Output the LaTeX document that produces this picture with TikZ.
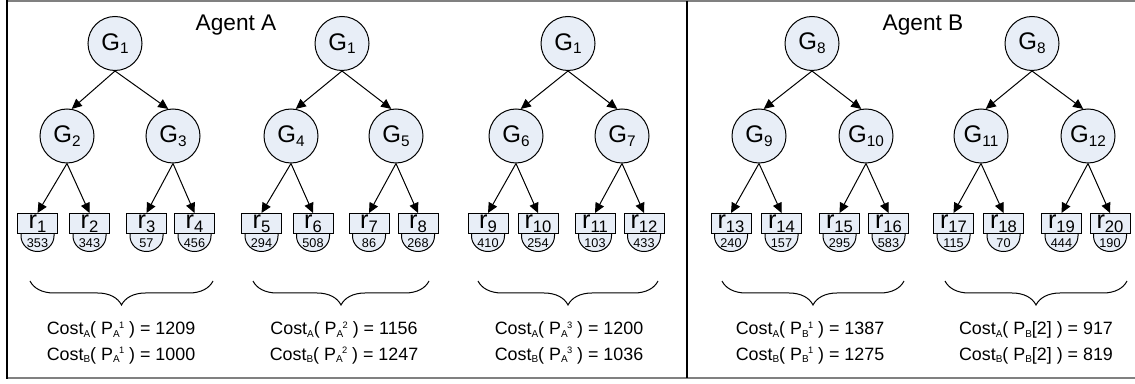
\documentclass[tikz,border=0pt]{standalone}
\usepackage{fontspec}
\setmainfont{Liberation Sans}
\usetikzlibrary{arrows.meta,decorations.pathreplacing}
\definecolor{nodefill}{RGB}{232,238,247}
\definecolor{framegray}{RGB}{128,128,128}
\newcommand{\Gn}[1]{G\raisebox{-2.8pt}{\fontsize{11.5}{12}\selectfont #1}}
\newcommand{\Rn}[1]{r\raisebox{-3pt}{\fontsize{12.5}{13}\selectfont #1}}
\newcommand{\sbA}[1]{\raisebox{-2pt}{\fontsize{7.5}{8}\selectfont #1}}
\newcommand{\spA}[1]{\raisebox{5pt}{\fontsize{7}{8}\selectfont #1}}
\newcommand{\PP}[2]{P\sbA{#1}\kern-0.5pt\spA{#2}}
\newcommand{\leafnode}[4]{%
  \draw[leafline] (#2-16.5,233) -- (#2-16.5,236) arc[start angle=180,end angle=0,x radius=16.5,y radius=15.5] -- (#2+16.5,233);
  \node[leafbox] (#1) at (#2,223.5) {\Rn{#3}};
  \node[numlab] (#1n) at (#2,243.5) {#4};
}
\tikzset{
  gnode/.style={circle, draw, fill=nodefill, minimum size=40.5pt, inner sep=0pt, line width=0.75pt, font=\fontsize{18}{19}\selectfont},
  leafbox/.style={rectangle, draw, fill=nodefill, minimum width=30pt, minimum height=15pt, inner sep=0pt, line width=0.75pt, font=\fontsize{19}{20}\selectfont},
  leafline/.style={draw, fill=nodefill, line width=0.75pt},
  numlab/.style={inner sep=0pt, font=\fontsize{9.5}{10}\selectfont},
  arr/.style={-{Triangle[length=7.5pt,width=7pt]}, line width=0.75pt},
  costlab/.style={inner sep=0pt, font=\fontsize{13.4}{15}\selectfont},
  agentlab/.style={inner sep=0pt, font=\fontsize{17}{18}\selectfont},
  brc/.style={decorate, decoration={brace, mirror, amplitude=18pt}, line width=0.75pt},
}
\begin{document}
\begin{tikzpicture}[x=0.75pt,y=-0.75pt]
\useasboundingbox (0,0) rectangle (1135,384);
% frame
\draw[framegray, line width=1.5pt] (7,1) -- (1135,1);
\draw[framegray, line width=1.5pt] (7,378.5) -- (1135,378.5);
\draw[black, line width=1.2pt] (7,0.5) -- (7,379);
\draw[black, line width=1pt] (687,1) -- (687,378);
% agent labels
\node[agentlab] (agA) at (236,25) {Agent A};
\node[agentlab] (agB) at (923,25) {Agent B};
% ---------- tree 1
\node[gnode] (t1) at (115,43.5) {\Gn{1}};
\node[gnode] (g2) at (67,136) {\Gn{2}};
\node[gnode] (g3) at (173,136) {\Gn{3}};
\leafnode{r1}{37.5}{1}{353}
\leafnode{r2}{89.5}{2}{343}
\leafnode{r3}{146.5}{3}{57}
\leafnode{r4}{194.5}{4}{456}
% ---------- tree 2
\node[gnode] (t2) at (342,43.5) {\Gn{1}};
\node[gnode] (g4) at (291,136) {\Gn{4}};
\node[gnode] (g5) at (396,136) {\Gn{5}};
\leafnode{r5}{261.5}{5}{294}
\leafnode{r6}{313}{6}{508}
\leafnode{r7}{369}{7}{86}
\leafnode{r8}{418}{8}{268}
% ---------- tree 3
\node[gnode] (t3) at (568,43.5) {\Gn{1}};
\node[gnode] (g6) at (516,136) {\Gn{6}};
\node[gnode] (g7) at (622,136) {\Gn{7}};
\leafnode{r9}{488}{9}{410}
\leafnode{r10}{538}{10}{254}
\leafnode{r11}{595}{11}{103}
\leafnode{r12}{644}{12}{433}
% ---------- tree 4
\node[gnode] (t4) at (812,43.5) {\Gn{8}};
\node[gnode] (g9) at (759,136) {\Gn{9}};
\node[gnode] (g10) at (866,136) {\Gn{10}};
\leafnode{r13}{731}{13}{240}
\leafnode{r14}{781.5}{14}{157}
\leafnode{r15}{839.5}{15}{295}
\leafnode{r16}{888.5}{16}{583}
% ---------- tree 5
\node[gnode] (t5) at (1032,43.5) {\Gn{8}};
\node[gnode] (g11) at (981,136) {\Gn{11}};
\node[gnode] (g12) at (1088,136) {\Gn{12}};
\leafnode{r17}{953.5}{17}{115}
\leafnode{r18}{1003.5}{18}{70}
\leafnode{r19}{1061.5}{19}{444}
\leafnode{r20}{1110}{20}{190}
% arrows root -> mid
\foreach \r/\a/\b in {t1/g2/g3, t2/g4/g5, t3/g6/g7, t4/g9/g10, t5/g11/g12}{
  \draw[arr] (\r.south) -- (\a.80);
  \draw[arr] (\r.south) -- (\b.100);
}
% arrows mid -> leaves
\foreach \g/\a/\b in {g2/r1/r2, g3/r3/r4, g4/r5/r6, g5/r7/r8, g6/r9/r10, g7/r11/r12,
                      g9/r13/r14, g10/r15/r16, g11/r17/r18, g12/r19/r20}{
  \draw[arr] (\g.south) -- (\a.north);
  \draw[arr] (\g.south) -- (\b.north);
}
% braces
\coordinate (b1s) at (30,281);  \coordinate (b1e) at (213,281);
\coordinate (b2s) at (253,281); \coordinate (b2e) at (429,281);
\coordinate (b3s) at (478,281); \coordinate (b3e) at (658,281);
\coordinate (b4s) at (722,281); \coordinate (b4e) at (904,281);
\coordinate (b5s) at (945,281); \coordinate (b5e) at (1127,281);
\draw[brc] (b1s) -- (b1e);
\draw[brc] (b2s) -- (b2e);
\draw[brc] (b3s) -- (b3e);
\draw[brc] (b4s) -- (b4e);
\draw[brc] (b5s) -- (b5e);
% cost labels
\node[costlab] (c1a) at (121,330) {Cost\sbA{A}( \PP{A}{1} ) = 1209};
\node[costlab] (c1b) at (121,355.5) {Cost\sbA{B}( \PP{A}{1} ) = 1000};
\node[costlab] (c2a) at (344,330) {Cost\sbA{A}( \PP{A}{2} ) = 1156};
\node[costlab] (c2b) at (344,355.5) {Cost\sbA{B}( \PP{A}{2} ) = 1247};
\node[costlab] (c3a) at (569,330) {Cost\sbA{A}( \PP{A}{3} ) = 1200};
\node[costlab] (c3b) at (569,355.5) {Cost\sbA{B}( \PP{A}{3} ) = 1036};
\node[costlab] (c4a) at (810,330) {Cost\sbA{A}( \PP{B}{1} ) = 1387};
\node[costlab] (c4b) at (810,355.5) {Cost\sbA{B}( \PP{B}{1} ) = 1275};
\node[costlab] (c5a) at (1036,330) {Cost\sbA{A}( P\sbA{B}[2] ) = 917};
\node[costlab] (c5b) at (1036,355.5) {Cost\sbA{B}( P\sbA{B}[2] ) = 819};
\end{tikzpicture}
\end{document}
